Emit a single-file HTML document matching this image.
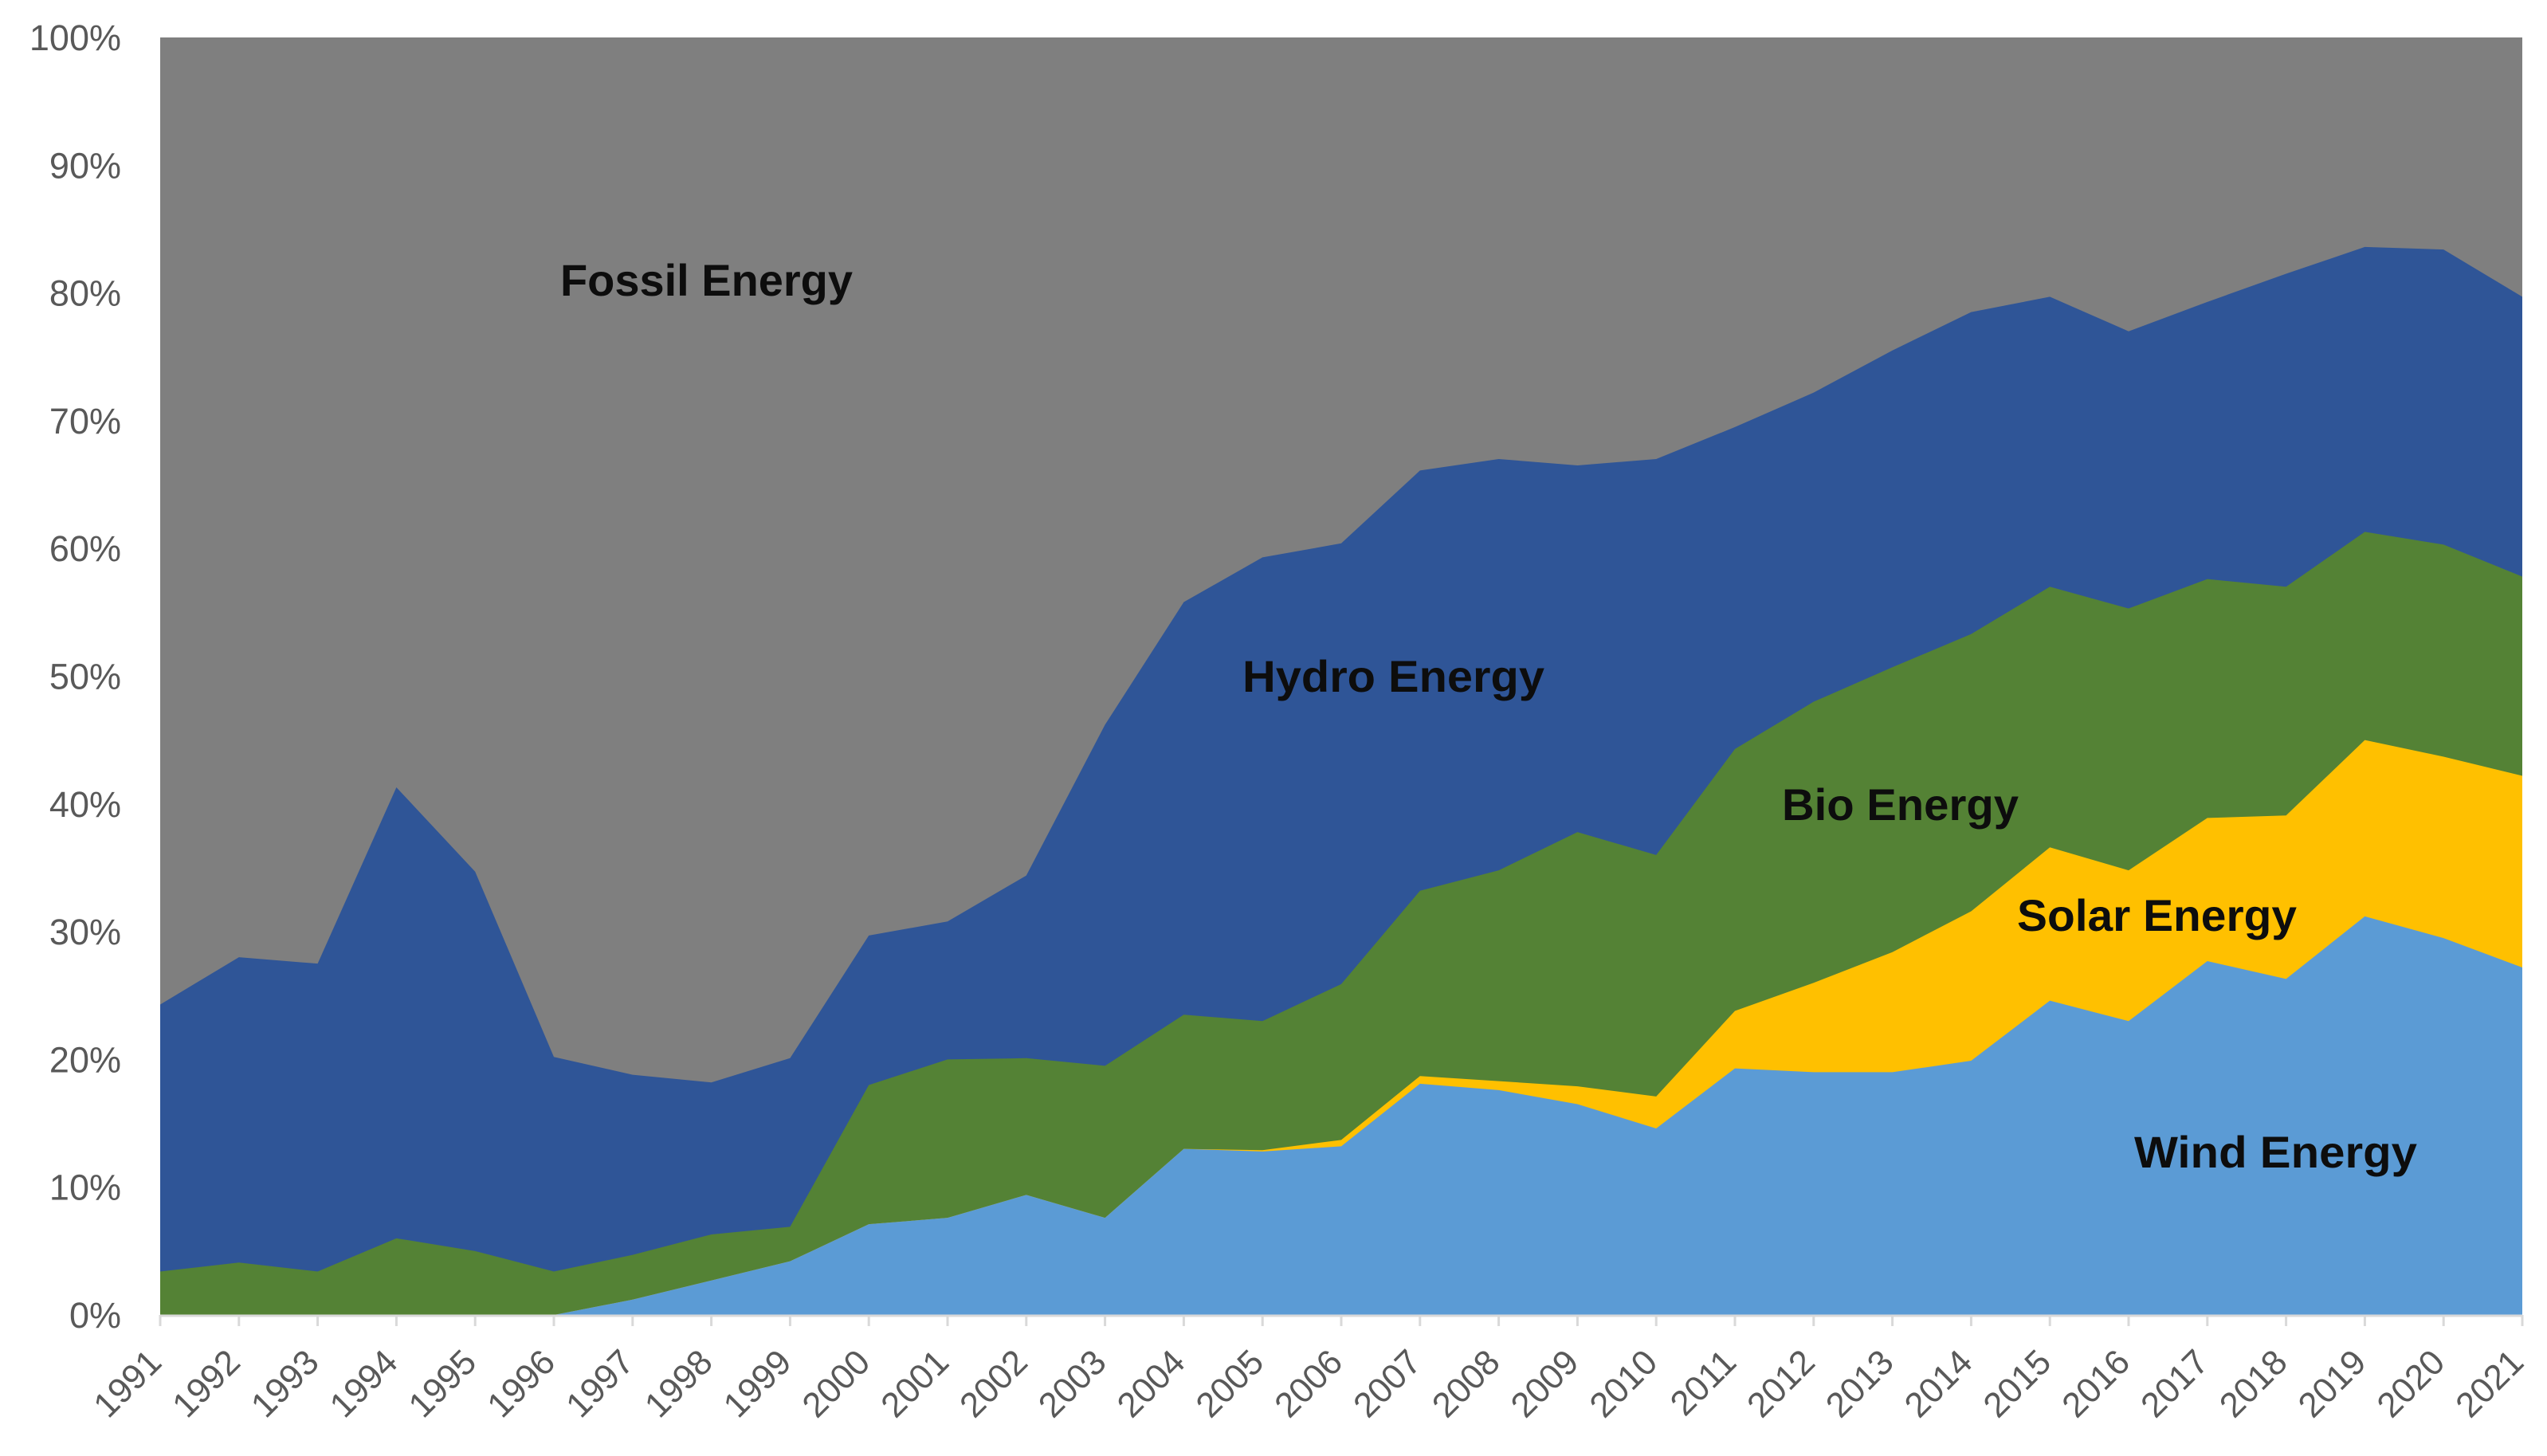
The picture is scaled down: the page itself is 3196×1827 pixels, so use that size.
<!DOCTYPE html>
<html><head><meta charset="utf-8"><style>
html,body{margin:0;padding:0;background:#fff;}
svg{display:block;font-family:"Liberation Sans",Arial,sans-serif;}
</style></head><body>
<svg id="chart" width="3196" height="1827" viewBox="0 0 3196 1827" xmlns="http://www.w3.org/2000/svg">
<g id="areas"></g>
<g id="axes"></g>
<g id="labels"></g>
</svg>
<script>
const years = [1991,1992,1993,1994,1995,1996,1997,1998,1999,2000,2001,2002,2003,2004,2005,2006,2007,2008,2009,2010,2011,2012,2013,2014,2015,2016,2017,2018,2019,2020,2021];
const wind  = [0,0,0,0,0,0,1.2,2.7,4.2,7.1,7.6,9.4,7.6,13,12.8,13.2,18.1,17.6,16.5,14.6,19.3,19,19,19.9,24.6,23,27.7,26.3,31.2,29.5,27.2];
const solar = [0,0,0,0,0,0,0,0,0,0,0,0,0,0,0.1,0.5,0.6,0.7,1.4,2.5,4.5,7.0,9.4,11.7,12.0,11.8,11.2,12.8,13.8,14.2,15.0];
const bio   = [3.4,4.1,3.4,6,5,3.4,3.5,3.6,2.7,10.9,12.4,10.7,11.9,10.5,10.1,12.2,14.5,16.5,19.9,18.9,20.5,22,22.3,21.7,20.4,20.5,18.7,17.9,16.3,16.6,15.6];
const hydro = [20.9,23.9,24.1,35.3,29.7,16.8,14.1,11.9,13.2,11.7,10.8,14.3,26.7,32.3,36.3,34.5,32.9,32.2,28.7,31,25.2,24.2,24.8,25.2,22.7,21.7,21.7,24.5,22.3,23.1,21.9];
const yTicks = [0,10,20,30,40,50,60,70,80,90,100];

const NS="http://www.w3.org/2000/svg";
const L=201,R=3165,T=47,B=1650;
const x=i=>L+(R-L)*i/(years.length-1);
const y=v=>B-(B-T)*v/100;
function mk(tag,attrs,parent){const e=document.createElementNS(NS,tag);for(const k in attrs)e.setAttribute(k,attrs[k]);parent.appendChild(e);return e;}
const areas=document.getElementById('areas'),axes=document.getElementById('axes'),labels=document.getElementById('labels');

const fossilBg=mk('rect',{x:L,y:T,width:R-L,height:B-T,fill:'#7f7f7f'},areas);



const series=[[wind,'#5b9bd5','wind-energy-area'],[solar,'#ffc000','solar-energy-area'],[bio,'#548235','bio-energy-area'],[hydro,'#2f5597','hydro-energy-area']];
let base=years.map(()=>0);
const layers=[];
series.forEach(([vals,col,name])=>{
  const top=base.map((b,i)=>b+vals[i]);
  layers.push([base.slice(),top,col,name]);
  base=top;
});
layers.reverse().forEach(([lo,hi,col,name])=>{
  let d='M'+x(0)+','+y(hi[0]);
  for(let i=1;i<years.length;i++)d+=' L'+x(i)+','+y(hi[i]);
  for(let i=years.length-1;i>=0;i--)d+=' L'+x(i)+','+y(0);
  d+='Z';
  const p=mk('path',{d:d,fill:col},areas);
  
  
});

const axl=mk('line',{x1:L,y1:B+1,x2:R,y2:B+1,stroke:'#d9d9d9','stroke-width':3},axes);


years.forEach((yr,i)=>{
  const t=mk('line',{x1:x(i),y1:B,x2:x(i),y2:B+14,stroke:'#d9d9d9','stroke-width':3},axes);
  
  
  const tx=x(i)+4, ty=B+62;
  const lb=mk('text',{x:tx,y:ty,'font-size':44,fill:'#595959','text-anchor':'end',transform:`rotate(-45 ${tx} ${ty})`},axes);
  lb.textContent=yr;
  
  
});
yTicks.forEach(v=>{
  const lb=mk('text',{x:152,y:y(v)+16,'font-size':45,fill:'#595959','text-anchor':'end'},axes);
  lb.textContent=v+'%';
  
  
});

const lbls=[['Fossil Energy',703,371,367,'fossil-label'],['Hydro Energy',1559,868,379,'hydro-label'],['Bio Energy',2236,1029,297,'bio-label'],['Solar Energy',2531,1168,351,'solar-label'],['Wind Energy',2678,1465,355,'wind-label']];
lbls.forEach(([t,lx,ly,w,n])=>{
  const e=mk('text',{x:lx,y:ly,'font-size':56,'font-weight':'bold',fill:'#0d0d0d',textLength:w,lengthAdjust:'spacingAndGlyphs'},labels);
  e.textContent=t;
  
  
});
</script>
</body></html>
